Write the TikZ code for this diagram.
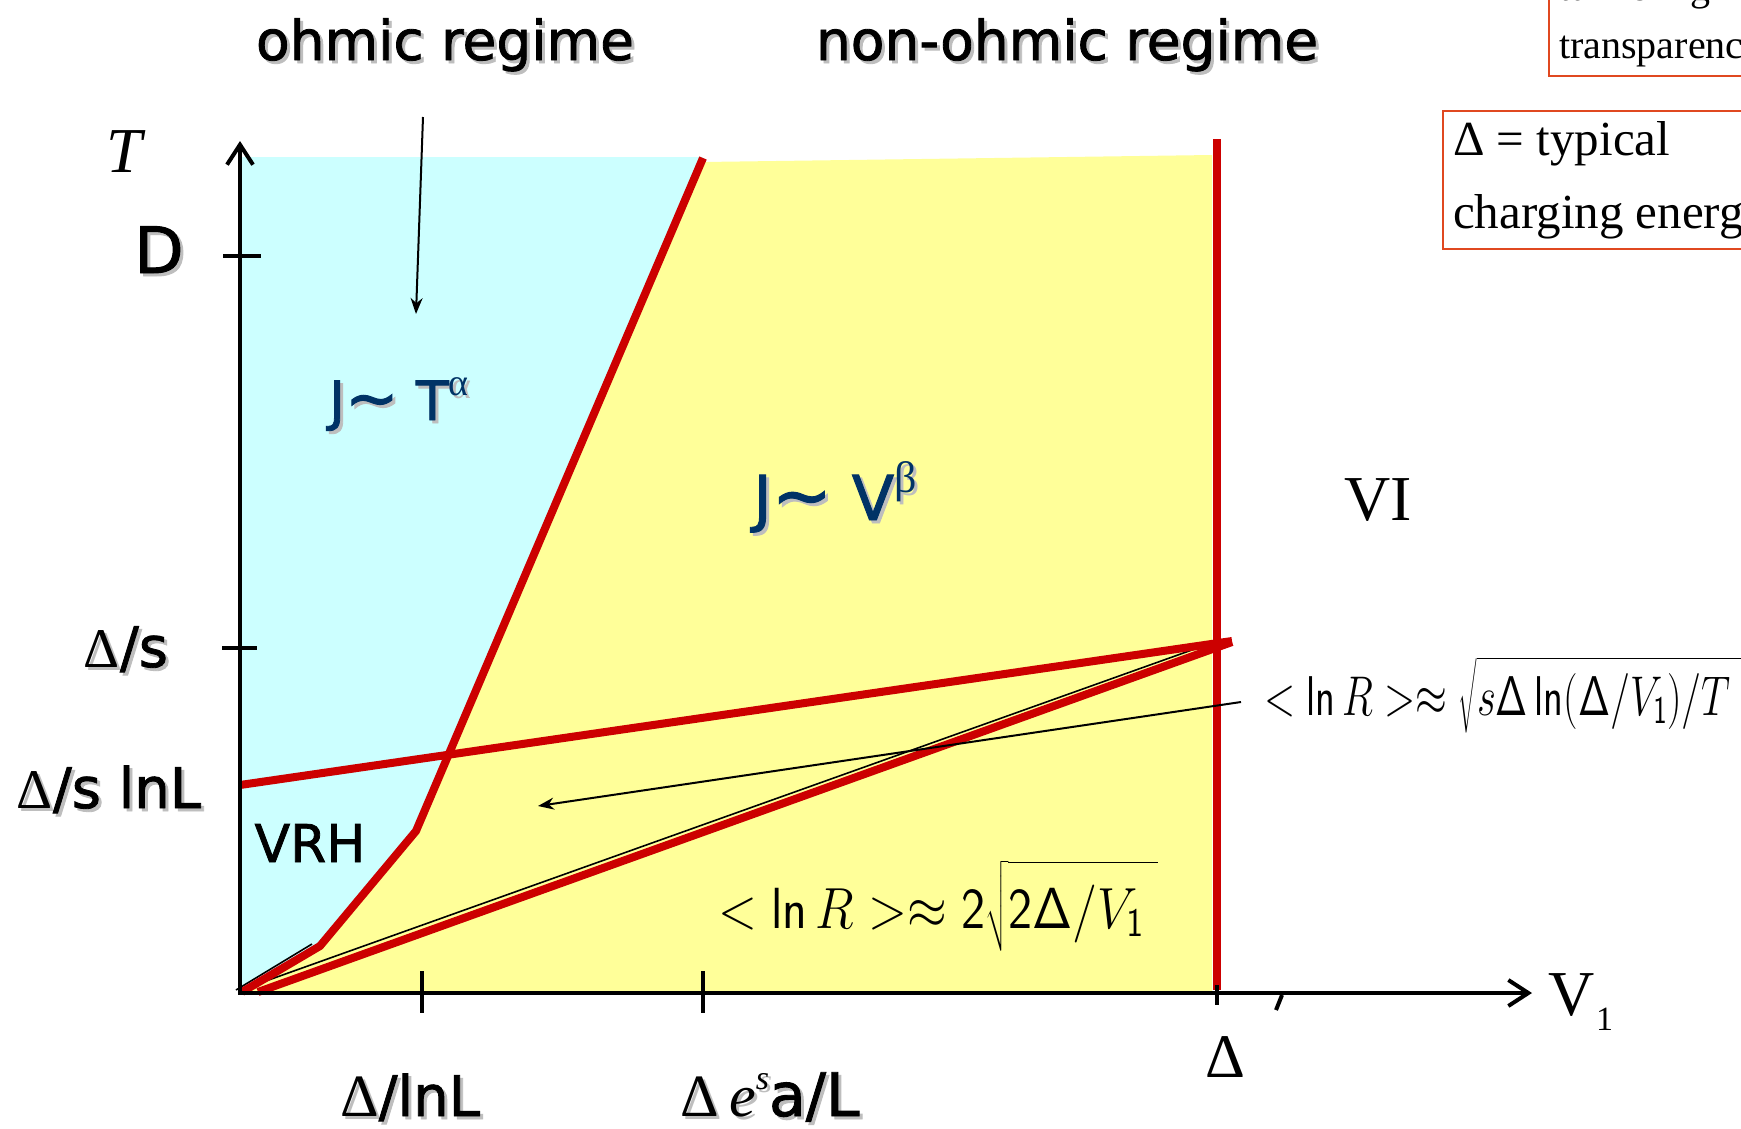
\documentclass[tikz,border=0pt]{standalone}
\usepackage{fix-cm}
\usepackage{exscale}
\usepackage[no-math]{fontspec}
\usepackage{graphicx}
\usetikzlibrary{arrows.meta}
\newfontfamily\comic[FakeBold=1.5]{DejaVu Sans}
\newfontfamily\tms{Liberation Serif}
\definecolor{redc}{RGB}{204,0,0}
\definecolor{cyanc}{RGB}{204,255,255}
\definecolor{yellowc}{RGB}{255,255,153}
\definecolor{navyc}{RGB}{0,51,102}
\definecolor{boxc}{RGB}{224,72,32}
\definecolor{shadowgray}{RGB}{190,190,190}
\newcommand\shtext[4]{%
  \node[#1, text=shadowgray, xshift=3pt, yshift=-3pt] at #3 {#4};
  \node[#1] (#2) at #3 {#4};}
\newcommand\fs[1]{\fontsize{#1}{#1}\selectfont}
\newcommand\sfln{\mathop{\mathsf{ln}}\nolimits}
\begin{document}
\begin{tikzpicture}[x=1pt,y=-1pt,
  redline/.style={draw=redc, line width=8pt},
  axisline/.style={draw=black, line width=4pt, -{Straight Barb[length=20pt,width=26pt]}},
  tickmark/.style={draw=black, line width=3.5pt},
  ptr/.style={draw=black, line width=2pt, -{Stealth[length=16pt,width=12pt]}},
  lbl/.style={inner sep=0pt, anchor=base},
  comiclbl/.style={lbl, font=\comic\fs{#1}},
  tmslbl/.style={lbl, font=\tms\fs{#1}},
  infobox/.style={draw=boxc, line width=2pt}]
\useasboundingbox (0,0) rectangle (1741,1128);
\clip (0,0) rectangle (1741,1128);
\fill[white] (0,0) rectangle (1741,1128);
% regions
\fill[cyanc] (240,157) rectangle (703,991);
\fill[yellowc] (703,162) -- (1212,155) -- (1212,991) -- (242,991) -- (320,946) -- (416,831) -- cycle;
% thin black line along the diagonal
\coordinate (blA) at (249,987);
\coordinate (blB) at (1217,641);
\draw[black, line width=1.6pt] (blA) -- (blB);
\draw[black, line width=1.6pt] (236,990) -- (312,944);
% red lines
\coordinate (bTop) at (703,158);
\coordinate (bK1) at (416,831);
\coordinate (bK2) at (320,946);
\coordinate (bO) at (242,992);
\draw[redline, line join=miter] (bTop) -- (bK1) -- (bK2) -- (bO);
\draw[redline] (240,785) -- (1232,641);
\draw[redline] (258,992) -- (1232,642);
\draw[redline] (1217,139) -- (1217,990);
% axes
\coordinate (O) at (240,994);
\coordinate (yTip) at (240,141);
\coordinate (xTip) at (1532,993);
\draw[axisline] (O) -- (yTip);
\draw[axisline] (238,993) -- (xTip);
% ticks
\draw[tickmark] (223,256) -- (261,256);
\draw[tickmark] (222,648) -- (257,648);
\draw[tickmark] (422,971) -- (422,1013);
\draw[tickmark] (703,971) -- (703,1013);
\draw[tickmark] (1217,985) -- (1217,1005);
\draw[black, line width=4pt] (1282,995) -- (1276,1010);
% arrows
\coordinate (a1s) at (423,117);
\coordinate (a1e) at (416,314);
\draw[ptr] (a1s) -- (a1e);
\coordinate (a2s) at (1241,702);
\coordinate (a2e) at (538,806);
\draw[ptr] (a2s) -- (a2e);
% titles
\shtext{comiclbl=55}{ohmic}{(445,60)}{ohmic regime}
\shtext{comiclbl=55}{nonohmic}{(1067,60)}{non-ohmic regime}
% axis labels
\node[lbl, font=\tms\itshape\fs{64}] (Tlab) at (124,172) {T};
\shtext{comiclbl=64}{Dlab}{(159,273)}{D}
\shtext{comiclbl=56}{dslab}{(126,667)}{{\tms Δ}/s}
\shtext{comiclbl=56}{dslnl}{(109,808)}{{\tms Δ}/s lnL}
\shtext{comiclbl=56}{dlnl}{(410,1116)}{{\tms\fs{60}Δ}/lnL}
\shtext{comiclbl=60}{desal}{(770,1116)}{{\tms\fs{60}Δ\,\itshape e\raisebox{0.45em}{\fs{34}s}}a/L}
\node[tmslbl=62] (dlab) at (1225,1077) {Δ};
\node[lbl, anchor=base west, font=\tms\fs{64}] (vlab) at (1548,1015) {V};
\node[lbl, anchor=base west, font=\tms\fs{34}] (vsub) at (1596,1030) {1};
% region labels
\node[comiclbl=52] (vrh) at (310,862) {VRH};
\shtext{comiclbl=54, text=navyc}{jt}{(399,420)}{J{\fs{64}∼} T\raisebox{0.45em}{\tms\fs{38}α}}
\shtext{comiclbl=62, text=navyc}{jv}{(835,520)}{J{\fs{72}∼} V\raisebox{0.45em}{\tms\fs{44}β}}
\node[tmslbl=64] (vi) at (1378,520) {VI};
% formulas
\node[lbl, anchor=base west, font=\fs{56}] (f1) at (1264,715)
  {\scalebox{0.73}[1]{$<\sfln R>\approx\sqrt{\rule[-0.3em]{0pt}{1.25em}s\mathsf{\Delta}\sfln(\mathsf{\Delta}/V_{\mathsf{1}})/T\;}$}};
\node[lbl, anchor=base west, font=\fs{58}] (f2) at (718,928)
  {\scalebox{0.88}[1]{$<\sfln R>\approx \mathsf{2}\sqrt{\rule[-0.3em]{0pt}{1.3em}\mathsf{2\Delta}/V_{\mathsf{1}}\;}$}};
% info boxes
\draw[infobox] (1549,-20) rectangle (1760,76);
\node[lbl, anchor=base west, font=\tms\fs{40}] (b1a) at (1559,0) {tunneling};
\node[lbl, anchor=base west, font=\tms\fs{40}] (b1b) at (1559,58) {transparency};
\draw[infobox] (1443,111) rectangle (1760,249);
\node[lbl, anchor=base west, font=\tms\fs{49}] (b2a) at (1453,155) {Δ = typical};
\node[lbl, anchor=base west, font=\tms\fs{49}] (b2b) at (1453,228) {charging energy};
\end{tikzpicture}
\end{document}
